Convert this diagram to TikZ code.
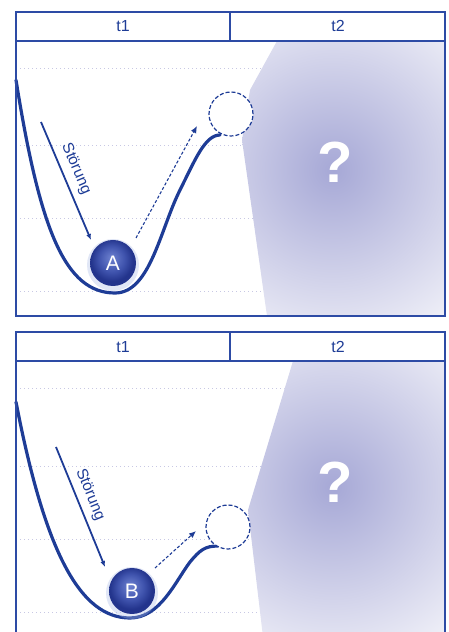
\documentclass[tikz,border=0pt]{standalone}
\usepackage{fontspec}
\setmainfont{Liberation Sans}
\usepackage{tikz}
\usetikzlibrary{arrows.meta}

\definecolor{ballLight}{RGB}{110,130,208}
\definecolor{ballMid}{RGB}{64,84,174}
\definecolor{ballDark}{RGB}{35,52,140}
\pgfdeclareradialshading{ballShading}{\pgfpoint{-2bp}{6bp}}{color(0bp)=(ballLight);color(14bp)=(ballMid);color(23bp)=(ballDark);color(25bp)=(ballDark);color(50bp)=(ballDark)}

\begin{document}
\begin{tikzpicture}[x=1pt,y=1pt]
\definecolor{fillColor}{RGB}{255,255,255}
\definecolor{drawColor}{RGB}{30,60,150}
\definecolor{frameColor}{RGB}{45,75,165}
\definecolor{gridColor}{RGB}{200,200,228}
\definecolor{shadeColor}{RGB}{166,168,214}
\definecolor{glowColor}{RGB}{170,185,230}
\tikzset{
  curve/.style={draw=drawColor,line width=3.2pt,line cap=round},
  pushArrow/.style={draw=drawColor,line width=1.8pt,-{Latex[length=6pt,width=5pt]}},
  moveArrow/.style={draw=drawColor,line width=1.1pt,dash pattern=on 3pt off 2pt,-{Latex[length=7pt,width=6pt]}},
  ghost/.style={circle,draw=drawColor,line width=1.2pt,dash pattern=on 4pt off 2pt,fill=fillColor,minimum size=44pt,inner sep=0pt},
  ball/.style={circle,shading=ballShading,minimum size=46pt,inner sep=0pt,text=white,font=\fontsize{21}{21}\selectfont},
  headLabel/.style={text=drawColor,font=\fontsize{16}{16}\selectfont},
  pushLabel/.style={text=drawColor,font=\fontsize{15.5}{15.5}\selectfont},
  askLabel/.style={text=white,font=\bfseries\fontsize{58}{58}\selectfont}
}
\path[use as bounding box,fill=fillColor,fill opacity=0.00] (0,0) rectangle (448,632);

% upper panel
\begin{scope}
\path[draw=gridColor,line width=1pt,dash pattern=on 1pt off 3pt] (20,563) -- (440,563);
\path[draw=gridColor,line width=1pt,dash pattern=on 1pt off 3pt] (20,486) -- (440,486);
\path[draw=gridColor,line width=1pt,dash pattern=on 1pt off 3pt] (20,413) -- (440,413);
\path[draw=gridColor,line width=1pt,dash pattern=on 1pt off 3pt] (20,340) -- (440,340);
\end{scope}
\begin{scope}
\path[clip] (277,591) -- (250,542) -- (242,492) -- (267,316) -- (445,316) -- (445,591) -- cycle;
\path[fill=fillColor] (240,310) rectangle (450,595);
\shade[inner color=shadeColor,outer color=fillColor] (333,462) circle (225);
\end{scope}
\node[askLabel] (ask1) at (335,470) {?};

\path[curve] (16,552) .. controls (40,402) and (65,339) .. (115,339)
  .. controls (150,339) and (160,402) .. (180,442)
  .. controls (195,472) and (205,497) .. (220,497);
\node[ghost] (goal1) at (231,518) {};
\path[fill=glowColor,fill opacity=0.35] (113,367) circle (26);
\node[ball] (ballA) at (113,369) {A};

\coordinate (pushStart1) at (41,510);
\coordinate (pushEnd1) at (91,392);
\path[pushArrow] (pushStart1) -- (pushEnd1);
\node[pushLabel,rotate=-67] (push1) at (76,463) {Störung};
\coordinate (moveStart1) at (136,394);
\coordinate (moveEnd1) at (197,506);
\path[moveArrow] (moveStart1) -- (moveEnd1);

\path[draw=frameColor,line width=1.6pt] (16,316) rectangle (445,620);
\path[draw=frameColor,line width=1.6pt] (16,591) -- (445,591);
\path[draw=frameColor,line width=1.6pt] (230,591) -- (230,620);
\node[headLabel] (head11) at (123,606) {t1};
\node[headLabel] (head12) at (338,606) {t2};

% lower panel
\begin{scope}
\path[clip] (0,0) rectangle (448,632);
\path[draw=gridColor,line width=1pt,dash pattern=on 1pt off 3pt] (20,243) -- (440,243);
\path[draw=gridColor,line width=1pt,dash pattern=on 1pt off 3pt] (20,165) -- (440,165);
\path[draw=gridColor,line width=1pt,dash pattern=on 1pt off 3pt] (20,92) -- (440,92);
\path[draw=gridColor,line width=1pt,dash pattern=on 1pt off 3pt] (20,19) -- (440,19);
\end{scope}
\begin{scope}
\path[clip] (293,271) -- (248,122) -- (263,-5) -- (445,-5) -- (445,271) -- cycle;
\path[fill=fillColor] (240,-10) rectangle (450,275);
\shade[inner color=shadeColor,outer color=fillColor] (333,145) circle (225);
\end{scope}
\node[askLabel] (ask2) at (335,150) {?};

\path[curve] (16,230) .. controls (45,80) and (80,14) .. (130,14)
  .. controls (160,14) and (175,50) .. (190,70)
  .. controls (200,82) and (205,86) .. (218,86);
\node[ghost] (goal2) at (228,105) {};
\path[fill=glowColor,fill opacity=0.35] (132,39) circle (26);
\node[ball] (ballB) at (132,41) {B};

\coordinate (pushStart2) at (56,185);
\coordinate (pushEnd2) at (105,65);
\path[pushArrow] (pushStart2) -- (pushEnd2);
\node[pushLabel,rotate=-67.8] (push2) at (90,137) {Störung};
\coordinate (moveStart2) at (155,64);
\coordinate (moveEnd2) at (196,101);
\path[moveArrow] (moveStart2) -- (moveEnd2);

\begin{scope}
\path[clip] (0,0) rectangle (448,632);
\path[draw=frameColor,line width=1.6pt] (16,-10) rectangle (445,300);
\path[draw=frameColor,line width=1.6pt] (16,271) -- (445,271);
\path[draw=frameColor,line width=1.6pt] (230,271) -- (230,300);
\end{scope}
\node[headLabel] (head21) at (123,285) {t1};
\node[headLabel] (head22) at (338,285) {t2};
\end{tikzpicture}
\end{document}
